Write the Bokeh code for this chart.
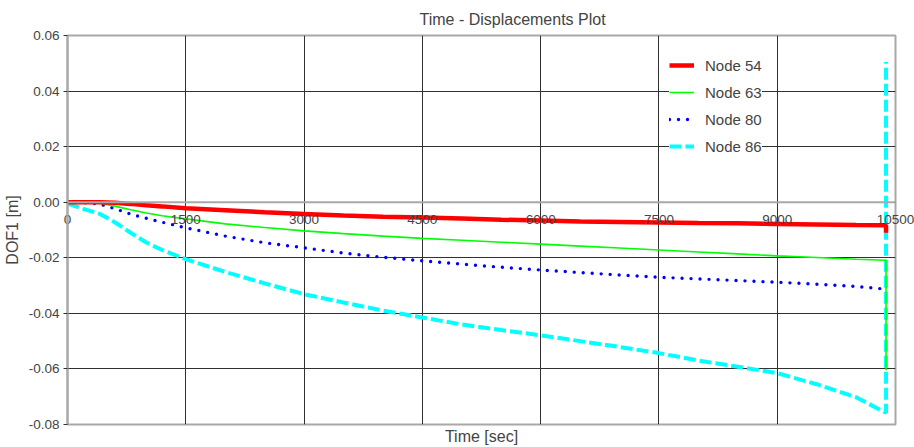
from bokeh.plotting import figure
from bokeh.models import (FixedTicker, PrintfTickFormatter, Legend, LegendItem,
                          Title, Span)
from bokeh.embed import file_html
from bokeh.resources import INLINE

# ---- data ----
time = [0, 200, 400, 600, 800, 1000, 1200, 1500, 2000, 2500, 3000, 3500, 4000,
        4500, 5000, 5500, 6000, 6500, 7000, 7500, 8000, 8500, 9000, 9500,
        10000, 10380, 10380]
node54 = [0, 0, 0, -0.0002, -0.0006, -0.0011, -0.0015, -0.0022, -0.0029, -0.0036,
          -0.0042, -0.0048, -0.0052, -0.0055, -0.0059, -0.0063, -0.0066, -0.0069,
          -0.0071, -0.0073, -0.0075, -0.0076, -0.0078, -0.0080, -0.0082, -0.0083,
          -0.0110]
node63 = [0, 0, -0.0003, -0.0014, -0.0027, -0.0039, -0.0049, -0.0060, -0.0078,
          -0.0091, -0.0103, -0.0113, -0.0122, -0.0130, -0.0137, -0.0144, -0.0151,
          -0.0158, -0.0165, -0.0172, -0.0179, -0.0186, -0.0193, -0.0199, -0.0205,
          -0.0209, -0.0605]
node80 = [0, -0.0001, -0.0006, -0.0023, -0.0043, -0.0058, -0.0072, -0.0092,
          -0.0122, -0.0146, -0.0164, -0.0183, -0.0198, -0.0211, -0.0223, -0.0234,
          -0.0244, -0.0253, -0.0262, -0.0270, -0.0276, -0.0282, -0.0288, -0.0295,
          -0.0303, -0.0313, -0.0313]
node86 = [-0.0005, -0.0024, -0.0041, -0.0072, -0.0110, -0.0145, -0.0172, -0.0205,
          -0.0251, -0.0292, -0.0331, -0.0361, -0.0390, -0.0415, -0.0440, -0.0460,
          -0.0479, -0.0500, -0.0521, -0.0543, -0.0570, -0.0592, -0.0615, -0.0655,
          -0.0702, -0.0758, 0.0505]

x_ticks = [0, 1500, 3000, 4500, 6000, 7500, 9000, 10500]
y_ticks = [-0.08, -0.06, -0.04, -0.02, 0.0, 0.02, 0.04, 0.06]

FONT = "Liberation Sans"

p = figure(frame_width=828, frame_height=389, width=906, height=447,
           x_range=(0, 10500), y_range=(-0.08, 0.06),
           output_backend="svg", toolbar_location=None,
           min_border_left=58, min_border_right=20, min_border_top=35,
           min_border_bottom=23)

p.title.text = "Time - Displacements Plot"
p.title.align = "left"
p.title.offset = 352
p.title.text_font = FONT
p.title.text_font_size = "16px"
p.title.text_font_style = "normal"
p.title.standoff = 15

# x tick labels: drawn from the below axis, lifted up to the y = 0 line
p.xaxis.ticker = FixedTicker(ticks=x_ticks)
p.xaxis.major_label_text_font = FONT
p.xaxis.major_label_text_font_size = "13.5px"
p.xaxis.major_label_standoff = -210
p.xaxis.major_tick_in = 0
p.xaxis.major_tick_out = 0
p.xaxis.minor_tick_line_color = None
p.xaxis.axis_line_color = None

p.add_layout(Title(text="Time [sec]", align="center", text_font=FONT,
                   text_font_size="16px", text_font_style="normal", standoff=2),
             "below")

p.xgrid.ticker = FixedTicker(ticks=x_ticks)
p.ygrid.ticker = FixedTicker(ticks=y_ticks)
for g in (p.xgrid, p.ygrid):
    g.grid_line_color = "#303030"
    g.grid_line_width = 1

p.outline_line_color = "#a8a8a8"
p.outline_line_width = 2

p.yaxis.ticker = FixedTicker(ticks=y_ticks)
p.yaxis.formatter = PrintfTickFormatter(format="%.2f")
p.yaxis.axis_label = "DOF1 [m]"
p.yaxis.axis_label_text_font = FONT
p.yaxis.axis_label_text_font_size = "16px"
p.yaxis.axis_label_text_font_style = "normal"
p.yaxis.axis_label_standoff = 5
p.yaxis.major_label_text_font = FONT
p.yaxis.major_label_text_font_size = "13.5px"
p.yaxis.major_label_standoff = 4
p.yaxis.major_tick_in = 0
p.yaxis.major_tick_out = 4
p.yaxis.major_tick_line_color = "#303030"
p.yaxis.minor_tick_line_color = None
p.yaxis.axis_line_color = "#a8a8a8"
p.yaxis.axis_line_width = 2

# grey zero line
p.add_layout(Span(location=0, dimension="width", line_color="#a8a8a8", line_width=2))

r86 = p.line(time, node86, line_color="#00ffff", line_width=4, line_dash="12 4")
r80 = p.line(time, node80, line_color="#0000ff", line_width=3.4, line_dash="0 9",
             line_cap="round")
r63 = p.line(time, node63, line_color="#00ff00", line_width=1.6)
r54 = p.line(time, node54, line_color="#ff0000", line_width=4.5)

legend = Legend(items=[LegendItem(label="Node 54", renderers=[r54]),
                       LegendItem(label="Node 63", renderers=[r63]),
                       LegendItem(label="Node 80", renderers=[r80]),
                       LegendItem(label="Node 86", renderers=[r86])],
                location=(602, 268), border_line_color=None,
                background_fill_color="white", background_fill_alpha=1,
                glyph_width=25, glyph_height=20, label_height=20,
                label_standoff=11, spacing=7, padding=5, margin=0,
                label_text_font=FONT, label_text_font_size="15px")
p.add_layout(legend, "center")

open("out.html", "w").write(file_html(p, INLINE))
